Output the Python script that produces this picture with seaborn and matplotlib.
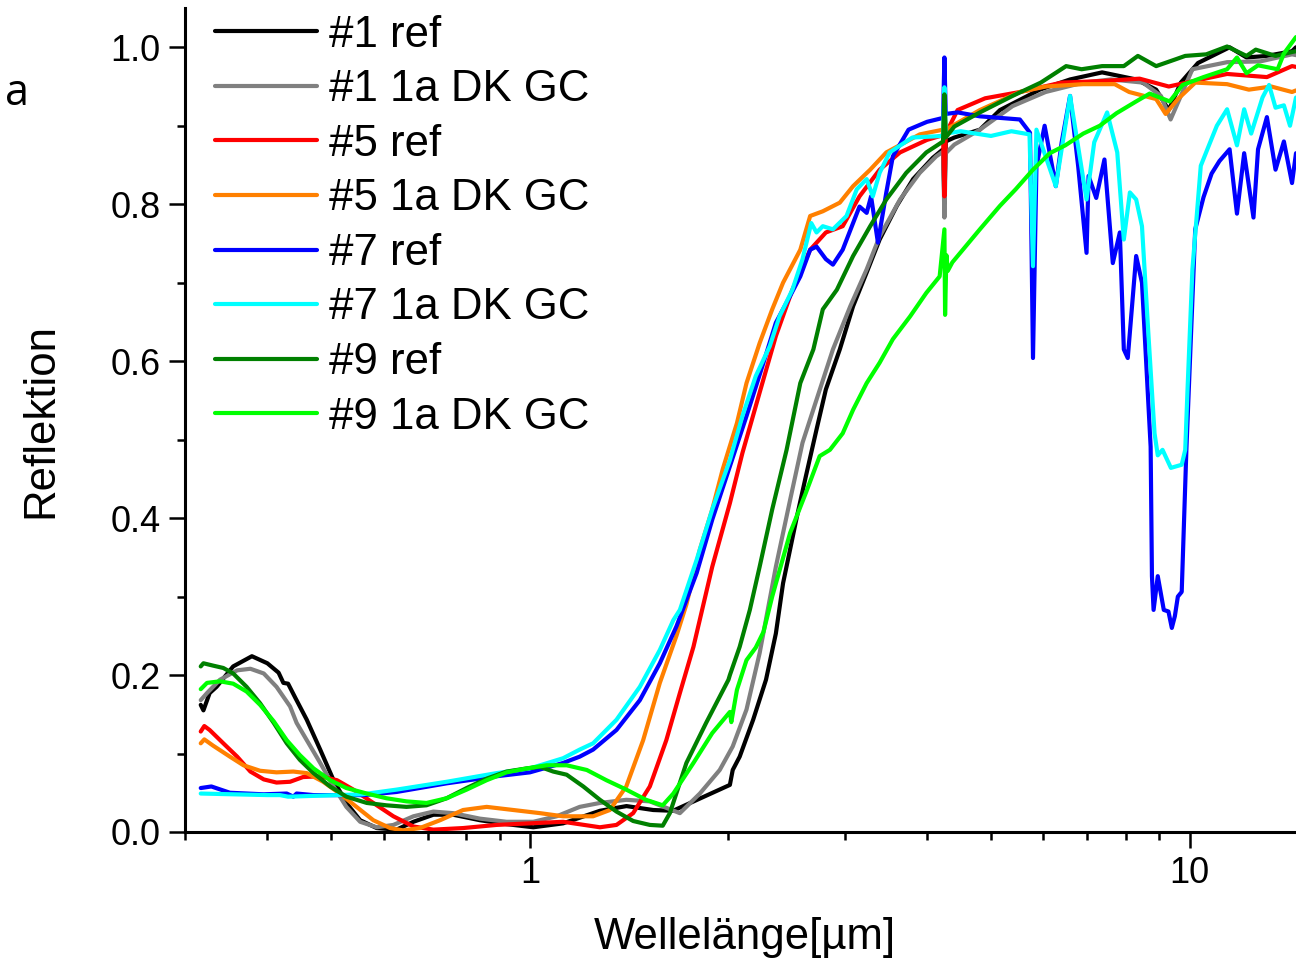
import numpy as np
import pandas as pd
import matplotlib
matplotlib.use('Agg')
import matplotlib.pyplot as plt
import seaborn as sns
from matplotlib.ticker import LogLocator, NullFormatter, MultipleLocator, FormatStrFormatter

labels = ['#1 ref', '#1 1a DK GC', '#5 ref', '#5 1a DK GC',
          '#7 ref', '#7 1a DK GC', '#9 ref', '#9 1a DK GC']
colors = ['#000000', '#808080', '#ff0000', '#ff8000',
          '#0000ff', '#00ffff', '#008000', '#00ff00']

# wavelength [um] and reflection
wl_1ref = [0.317, 0.320, 0.327, 0.335, 0.355, 0.379, 0.400, 0.416, 0.423, 0.430,
           0.441, 0.459, 0.481, 0.504, 0.527, 0.553, 0.586, 0.628, 0.666, 0.714,
           0.765, 0.840, 0.922, 1.012, 1.123, 1.277, 1.401, 1.538, 1.648, 2.01,
           2.03, 2.08, 2.18, 2.28, 2.36, 2.42, 2.54, 2.62, 2.72, 2.81,
           2.95, 3.09, 3.24, 3.39, 3.60, 3.81, 4.08, 4.23, 4.25, 4.27,
           4.40, 4.81, 5.16, 5.93, 6.59, 7.37, 8.3, 8.9, 9.3, 9.7,
           10.3, 11.5, 12.2, 13.1, 14.3, 14.5]
r_1ref = [0.162, 0.155, 0.177, 0.185, 0.211, 0.224, 0.215, 0.203, 0.190, 0.189,
          0.171, 0.143, 0.105, 0.066, 0.037, 0.015, 0.005, 0.003, 0.013, 0.022,
          0.022, 0.015, 0.010, 0.006, 0.011, 0.027, 0.033, 0.028, 0.027, 0.060,
          0.079, 0.096, 0.143, 0.194, 0.253, 0.317, 0.402, 0.453, 0.513, 0.564,
          0.615, 0.670, 0.713, 0.755, 0.798, 0.832, 0.859, 0.870, 0.80, 0.88,
          0.885, 0.895, 0.92, 0.946, 0.959, 0.968, 0.959, 0.946, 0.92, 0.955,
          0.98, 1.0, 0.987, 0.989, 0.995, 1.0]

wl_1gc = [0.317, 0.324, 0.339, 0.360, 0.377, 0.395, 0.413, 0.433, 0.443, 0.459,
          0.481, 0.504, 0.527, 0.553, 0.586, 0.621, 0.666, 0.714, 0.765, 0.840,
          0.922, 1.012, 1.098, 1.19, 1.277, 1.40, 1.52, 1.688, 1.81, 1.94,
          2.03, 2.13, 2.23, 2.36, 2.48, 2.59, 2.72, 2.88, 3.06, 3.24,
          3.39, 3.64, 3.90, 4.13, 4.23, 4.25, 4.27, 4.40, 4.81, 5.39,
          6.05, 6.9, 7.6, 8.5, 9.05, 9.36, 9.7, 10.1, 11.4, 12.8,
          14.3, 14.5]
r_1gc = [0.168, 0.177, 0.194, 0.206, 0.208, 0.202, 0.185, 0.160, 0.139, 0.117,
         0.088, 0.058, 0.032, 0.013, 0.006, 0.009, 0.020, 0.026, 0.024, 0.017,
         0.013, 0.013, 0.020, 0.032, 0.037, 0.041, 0.039, 0.024, 0.049, 0.079,
         0.109, 0.156, 0.228, 0.338, 0.423, 0.496, 0.551, 0.615, 0.670, 0.717,
         0.759, 0.806, 0.840, 0.861, 0.867, 0.783, 0.865, 0.876, 0.895, 0.925,
         0.943, 0.955, 0.959, 0.955, 0.938, 0.908, 0.938, 0.972, 0.981, 0.982,
         0.991, 0.99]

wl_5ref = [0.317, 0.321, 0.327, 0.343, 0.360, 0.377, 0.395, 0.413, 0.433, 0.453,
           0.481, 0.510, 0.540, 0.579, 0.621, 0.666, 0.714, 0.792, 0.890, 1.0,
           1.123, 1.277, 1.353, 1.434, 1.52, 1.61, 1.688, 1.77, 1.89, 2.01,
           2.10, 2.23, 2.36, 2.50, 2.66, 2.81, 2.98, 3.16, 3.39, 3.64,
           4.0, 4.23, 4.25, 4.27, 4.45, 4.9, 5.53, 6.4, 7.4, 8.4,
           9.3, 9.9, 11.4, 13.1, 14.3, 14.5]
r_5ref = [0.128, 0.135, 0.130, 0.113, 0.096, 0.077, 0.067, 0.063, 0.064, 0.070,
          0.071, 0.066, 0.054, 0.037, 0.020, 0.007, 0.003, 0.005, 0.009, 0.011,
          0.013, 0.006, 0.009, 0.024, 0.058, 0.117, 0.177, 0.236, 0.338, 0.419,
          0.483, 0.560, 0.632, 0.691, 0.742, 0.764, 0.772, 0.810, 0.844, 0.866,
          0.882, 0.888, 0.81, 0.89, 0.92, 0.935, 0.943, 0.955, 0.957, 0.96,
          0.95, 0.955, 0.966, 0.962, 0.976, 0.975]

wl_5gc = [0.317, 0.321, 0.331, 0.351, 0.368, 0.390, 0.413, 0.438, 0.459, 0.486,
          0.515, 0.546, 0.579, 0.614, 0.643, 0.681, 0.731, 0.792, 0.860, 0.944,
          1.036, 1.123, 1.19, 1.247, 1.322, 1.40, 1.485, 1.574, 1.668, 1.727,
          1.81, 1.89, 1.96, 2.06, 2.13, 2.23, 2.33, 2.42, 2.57, 2.66,
          2.78, 2.95, 3.09, 3.28, 3.47, 3.9, 4.23, 4.25, 4.27, 4.81,
          5.53, 6.05, 6.9, 7.7, 8.1, 8.9, 9.2, 9.6, 10.2, 11.4,
          12.3, 13.3, 14.3, 14.5]
r_5gc = [0.113, 0.118, 0.110, 0.096, 0.085, 0.078, 0.076, 0.077, 0.075, 0.064,
         0.049, 0.032, 0.015, 0.005, 0.002, 0.005, 0.015, 0.028, 0.032, 0.028,
         0.024, 0.020, 0.020, 0.020, 0.028, 0.058, 0.117, 0.190, 0.25, 0.29,
         0.360, 0.411, 0.462, 0.521, 0.572, 0.623, 0.666, 0.700, 0.742, 0.785,
         0.791, 0.802, 0.823, 0.844, 0.866, 0.889, 0.895, 0.93, 0.895, 0.92,
         0.943, 0.95, 0.953, 0.953, 0.943, 0.934, 0.915, 0.934, 0.955, 0.953,
         0.946, 0.95, 0.943, 0.945]

wl_7ref = [0.317, 0.329, 0.351, 0.395, 0.428, 0.438, 0.443, 0.47, 0.56, 0.628,
           0.748, 0.890, 1.0, 1.123, 1.19, 1.247, 1.353, 1.468, 1.574, 1.668,
           1.79, 1.89, 2.01, 2.13, 2.26, 2.36, 2.48, 2.57, 2.66, 2.72,
           2.81, 2.88, 2.98, 3.09, 3.16, 3.24, 3.29, 3.37, 3.47, 3.55,
           3.75, 4.0, 4.23, 4.25, 4.27, 4.45, 4.81, 5.16, 5.53, 5.73,
           5.79, 5.86, 6.03, 6.27, 6.4, 6.59, 6.78, 6.98, 7.03, 7.22,
           7.43, 7.65, 7.84, 7.95, 8.06, 8.3, 8.47, 8.73, 8.77, 8.82,
           8.95, 9.14, 9.29, 9.4, 9.5, 9.6, 9.73, 9.89, 10.2, 10.5,
           10.8, 11.1, 11.5, 11.8, 12.1, 12.5, 12.7, 13.1, 13.5, 13.9,
           14.3, 14.5]
r_7ref = [0.056, 0.058, 0.050, 0.048, 0.049, 0.045, 0.049, 0.047, 0.047, 0.051,
          0.062, 0.071, 0.076, 0.088, 0.096, 0.105, 0.130, 0.168, 0.215, 0.262,
          0.330, 0.398, 0.466, 0.530, 0.598, 0.649, 0.683, 0.708, 0.742, 0.746,
          0.730, 0.723, 0.742, 0.776, 0.797, 0.789, 0.810, 0.751, 0.815, 0.861,
          0.895, 0.905, 0.91, 0.987, 0.915, 0.917, 0.912, 0.910, 0.908, 0.891,
          0.604, 0.848, 0.9, 0.823, 0.879, 0.938, 0.848, 0.738, 0.836, 0.808,
          0.857, 0.725, 0.764, 0.615, 0.604, 0.734, 0.70, 0.491, 0.326, 0.283,
          0.326, 0.283, 0.281, 0.26, 0.275, 0.30, 0.306, 0.487, 0.768, 0.809,
          0.839, 0.855, 0.87, 0.788, 0.865, 0.783, 0.87, 0.911, 0.844, 0.88,
          0.827, 0.865]

wl_7gc = [0.317, 0.40, 0.418, 0.43, 0.557, 0.628, 0.748, 0.890, 1.0, 1.123,
          1.19, 1.247, 1.353, 1.468, 1.574, 1.65, 1.688, 1.79, 1.89, 2.01,
          2.10, 2.2, 2.31, 2.39, 2.50, 2.59, 2.67, 2.72, 2.78, 2.88,
          3.02, 3.13, 3.24, 3.31, 3.39, 3.51, 3.8, 4.23, 4.25, 4.27,
          4.5, 5.0, 5.37, 5.72, 5.79, 5.86, 6.27, 6.59, 6.98, 7.17,
          7.5, 7.77, 7.95, 8.12, 8.3, 8.47, 8.66, 8.85, 8.95, 9.1,
          9.37, 9.73, 9.85, 9.93, 10.1, 10.4, 10.7, 11.0, 11.4, 11.8,
          12.1, 12.4, 12.9, 13.2, 13.5, 13.9, 14.2, 14.5]
r_7gc = [0.049, 0.047, 0.047, 0.045, 0.048, 0.054, 0.064, 0.075, 0.081, 0.094,
         0.105, 0.113, 0.143, 0.185, 0.232, 0.270, 0.283, 0.347, 0.411, 0.474,
         0.530, 0.581, 0.619, 0.657, 0.691, 0.730, 0.776, 0.764, 0.772, 0.768,
         0.785, 0.819, 0.832, 0.810, 0.840, 0.866, 0.885, 0.887, 0.949, 0.89,
         0.893, 0.887, 0.893, 0.889, 0.721, 0.895, 0.823, 0.938, 0.806, 0.879,
         0.917, 0.866, 0.755, 0.815, 0.806, 0.772, 0.636, 0.508, 0.48, 0.487,
         0.464, 0.468, 0.487, 0.564, 0.717, 0.849, 0.875, 0.90, 0.921, 0.875,
         0.921, 0.890, 0.936, 0.952, 0.923, 0.926, 0.90, 0.936]

wl_9ref = [0.317, 0.32, 0.331, 0.343, 0.355, 0.372, 0.390, 0.409, 0.428, 0.448,
           0.47, 0.498, 0.527, 0.566, 0.606, 0.65, 0.697, 0.748, 0.802, 0.86,
           0.922, 0.989, 1.036, 1.085, 1.137, 1.205, 1.277, 1.353, 1.434, 1.52,
           1.59, 1.63, 1.727, 1.85, 2.0, 2.01, 2.08, 2.155, 2.23, 2.33,
           2.45, 2.57, 2.69, 2.78, 2.92, 3.09, 3.28, 3.47, 3.72, 3.99,
           4.23, 4.25, 4.27, 4.4, 4.81, 5.39, 5.95, 6.5, 6.86, 7.37,
           7.95, 8.35, 8.9, 9.55, 9.85, 10.6, 11.4, 12.2, 12.6, 13.5,
           14.3, 14.5]
r_9ref = [0.211, 0.215, 0.212, 0.209, 0.202, 0.185, 0.164, 0.139, 0.113, 0.092,
          0.075, 0.058, 0.045, 0.037, 0.034, 0.032, 0.034, 0.043, 0.056, 0.068,
          0.077, 0.081, 0.083, 0.077, 0.073, 0.058, 0.041, 0.026, 0.014, 0.009,
          0.008, 0.024, 0.088, 0.139, 0.194, 0.20, 0.236, 0.283, 0.338, 0.411,
          0.487, 0.572, 0.615, 0.666, 0.691, 0.734, 0.772, 0.806, 0.840, 0.866,
          0.88, 0.94, 0.885, 0.899, 0.917, 0.938, 0.955, 0.976, 0.972, 0.976,
          0.976, 0.989, 0.976, 0.985, 0.989, 0.991, 1.001, 0.989, 0.997, 0.989,
          0.994, 0.995]

wl_9gc = [0.317, 0.324, 0.339, 0.355, 0.372, 0.390, 0.409, 0.428, 0.448, 0.47,
          0.498, 0.527, 0.566, 0.606, 0.65, 0.697, 0.748, 0.802, 0.86, 0.922,
          0.989, 1.06, 1.137, 1.22, 1.306, 1.40, 1.50, 1.59, 1.65, 1.77,
          1.89, 2.01, 2.02, 2.06, 2.13, 2.2, 2.26, 2.33, 2.48, 2.62,
          2.75, 2.85, 2.98, 3.09, 3.24, 3.39, 3.55, 3.77, 3.99, 4.18,
          4.25, 4.26, 4.28, 4.30, 4.37, 4.81, 5.16, 5.45, 5.79, 6.14,
          6.48, 6.9, 7.31, 7.75, 8.3, 8.7, 9.33, 9.76, 10.5, 11.4,
          11.8, 12.2, 12.7, 13.6, 13.9, 14.5]
r_9gc = [0.182, 0.19, 0.192, 0.189, 0.179, 0.162, 0.141, 0.117, 0.098, 0.081,
         0.066, 0.056, 0.049, 0.043, 0.039, 0.037, 0.043, 0.054, 0.066, 0.076,
         0.081, 0.085, 0.085, 0.079, 0.066, 0.054, 0.041, 0.034, 0.049, 0.088,
         0.126, 0.153, 0.14, 0.181, 0.219, 0.235, 0.255, 0.30, 0.381, 0.432,
         0.479, 0.487, 0.508, 0.538, 0.572, 0.598, 0.628, 0.657, 0.687, 0.708,
         0.768, 0.659, 0.735, 0.715, 0.726, 0.768, 0.798, 0.819, 0.844, 0.865,
         0.875, 0.890, 0.90, 0.916, 0.931, 0.941, 0.931, 0.952, 0.962, 0.972,
         0.987, 0.967, 0.977, 0.972, 0.992, 1.013]

series = [(wl_1ref, r_1ref), (wl_1gc, r_1gc), (wl_5ref, r_5ref), (wl_5gc, r_5gc),
          (wl_7ref, r_7ref), (wl_7gc, r_7gc), (wl_9ref, r_9ref), (wl_9gc, r_9gc)]

frames = []
for lab, (wl, r) in zip(labels, series):
    frames.append(pd.DataFrame({'wl': wl, 'R': r, 'sample': lab}))
df = pd.concat(frames, ignore_index=True)

sns.set_style('ticks')
plt.rcParams['font.family'] = ['Liberation Sans', 'DejaVu Sans']
plt.rcParams['text.color'] = 'black'
plt.rcParams['axes.labelcolor'] = 'black'
plt.rcParams['axes.edgecolor'] = 'black'
plt.rcParams['xtick.color'] = 'black'
plt.rcParams['ytick.color'] = 'black'

fig = plt.figure(figsize=(12.96, 9.69), dpi=100)
ax = fig.add_axes([0.1427, 0.1414, 0.8573, 0.8503])

sns.lineplot(data=df, x='wl', y='R', hue='sample', hue_order=labels,
             palette=dict(zip(labels, colors)), estimator=None,
             linewidth=3.0, ax=ax)

ax.set_xscale('log')
ax.set_xlim(0.3, 14.5)
ax.set_ylim(0, 1.05)
ax.set_xticks([1, 10])
ax.set_xticklabels(['1', '10'])
ax.xaxis.set_minor_locator(LogLocator(base=10, subs=np.arange(2, 10)))
ax.xaxis.set_minor_formatter(NullFormatter())
ax.yaxis.set_major_locator(MultipleLocator(0.2))
ax.yaxis.set_minor_locator(MultipleLocator(0.1))
ax.yaxis.set_major_formatter(FormatStrFormatter('%.1f'))

sns.despine(ax=ax)
for s in ['left', 'bottom']:
    ax.spines[s].set_linewidth(2.2)
ax.tick_params(which='major', length=11.5, width=1.8, labelsize=26, pad=6, direction='out')
ax.tick_params(which='minor', length=6, width=1.8, direction='out')

ax.set_xlabel('Wellelänge[µm]', fontsize=31.5)
ax.set_ylabel('Reflektion', fontsize=31.5)
ax.xaxis.set_label_coords(0.504, -0.103)
ax.yaxis.set_label_coords(-0.111, 0.5)

for ln in ax.lines:
    ln.set_linewidth(3.0)
ax.legend(handles=ax.lines[:8], labels=labels, loc='upper left',
          bbox_to_anchor=(0.027, 0.992), frameon=False, fontsize=31.5,
          handlelength=2.33, handletextpad=0.27, labelspacing=0.31,
          borderpad=0, borderaxespad=0)

fig.text(0.004, 0.903, 'a', fontsize=31, family=['Open Sans', 'DejaVu Sans'],
         ha='left', va='center')

fig.savefig('out.png', dpi=100)
